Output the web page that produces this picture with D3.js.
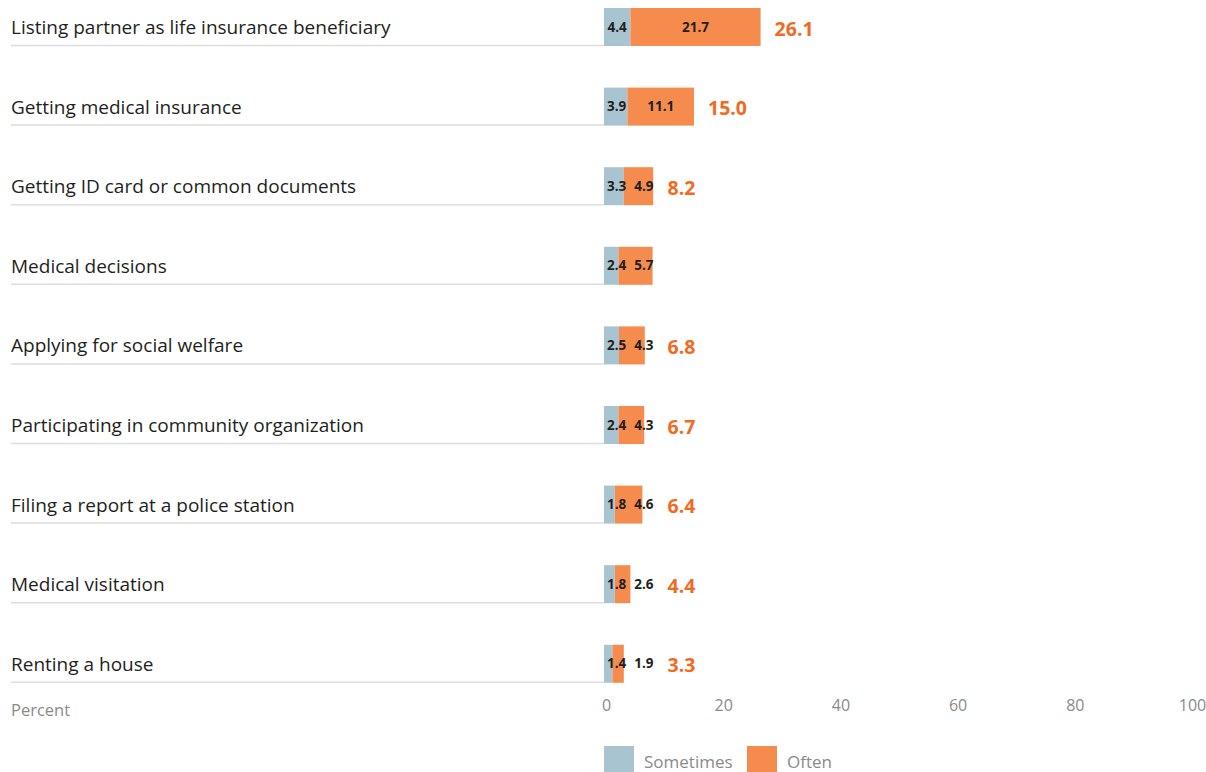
<!DOCTYPE html>
<html>
<head>
    <script src="https://d3js.org/d3.v7.min.js" charset="utf-8"></script>
    <style>
        body { margin: 0; background: #fff; }
        svg text { font-family: "Open Sans", "Noto Sans", sans-serif; }
    </style>
</head>
<body>
   <script>
        var categories = [
            "Listing partner as life insurance beneficiary",
            "Getting medical insurance",
            "Getting ID card or common documents",
            "Medical decisions",
            "Applying for social welfare",
            "Participating in community organization",
            "Filing a report at a police station",
            "Medical visitation",
            "Renting a house"
        ];
        var sometimes = [4.4, 3.9, 3.3, 2.4, 2.5, 2.4, 1.8, 1.8, 1.4];
        var often = [21.7, 11.1, 4.9, 5.7, 4.3, 4.3, 4.6, 2.6, 1.9];
        // the original chart shows no total for "Medical decisions"
        var totals = ["26.1", "15.0", "8.2", null, "6.8", "6.7", "6.4", "4.4", "3.3"];
        var ticks = [0, 20, 40, 60, 80, 100];
        var seriesNames = ["Sometimes", "Often"];
        var colors = ["#a9c4d1", "#f68b4e"];

        var width = 1206, height = 772;
        var svg = d3.select("body")
            .append("svg")
            .attr("width", width)
            .attr("height", height);

        var x = d3.scaleLinear().domain([0, 100]).range([604, 1204]);
        var xAxisScale = d3.scaleLinear().domain([0, 100]).range([606, 1192]);
        var y = d3.scaleBand().domain(categories).range([8, 8 + 79.6 * 9]);
        var barH = 38;

        var rows = svg.append("g")
            .selectAll("g.row")
            .data(categories.map(function (c, i) {
                return { cat: c, s: sometimes[i], o: often[i], t: totals[i] };
            }))
            .enter()
            .append("g")
            .attr("class", "row")
            .attr("transform", function (d) { return "translate(0," + y(d.cat) + ")"; });

        rows.append("line")
            .attr("x1", 11).attr("x2", x(0))
            .attr("y1", barH - 0.5).attr("y2", barH - 0.5)
            .style("stroke", "#dddddd")
            .style("stroke-width", 1.5);

        rows.append("text")
            .attr("x", 11)
            .attr("y", 26)
            .style("font-size", "19px")
            .style("fill", "#231f20")
            .text(function (d) { return d.cat; });

        rows.append("rect")
            .attr("x", x(0))
            .attr("width", function (d) { return x(d.s) - x(0); })
            .attr("height", barH)
            .style("fill", colors[0]);

        rows.append("rect")
            .attr("x", function (d) { return x(d.s); })
            .attr("width", function (d) { return x(d.s + d.o) - x(d.s); })
            .attr("height", barH)
            .style("fill", colors[1]);

        rows.each(function (d) {
            var g = d3.select(this);
            var t1 = g.append("text")
                .attr("y", 23.5)
                .style("font-size", "13.5px")
                .style("font-weight", "bold")
                .style("fill", "#231f20")
                .text(d.s.toFixed(1));
            var w1 = t1.node().getComputedTextLength();
            var segW1 = x(d.s) - x(0);
            var s1 = w1 + 6 < segW1 ? x(0) + (segW1 - w1) / 2 : x(0) + 3;
            t1.attr("x", s1);
            var end1 = s1 + w1;

            var t2 = g.append("text")
                .attr("y", 23.5)
                .style("font-size", "13.5px")
                .style("font-weight", "bold")
                .style("fill", "#231f20")
                .text(d.o.toFixed(1));
            var w2 = t2.node().getComputedTextLength();
            var segW2 = x(d.s + d.o) - x(d.s);
            var s2 = x(d.s) + (segW2 - w2) / 2;
            s2 = Math.max(s2, end1 + 8);
            t2.attr("x", s2);
            var end2 = Math.max(s2 + w2, x(d.s + d.o));

            if (d.t) {
                g.append("text")
                    .attr("x", end2 + 14)
                    .attr("y", 27.5)
                    .style("font-size", "19.5px")
                    .style("font-weight", "bold")
                    .style("fill", "#f26a22")
                    .text(d.t);
            }
        });

        // axis
        var axis = svg.append("g")
            .attr("transform", "translate(0,700)")
            .call(d3.axisBottom(xAxisScale).tickValues(ticks).tickSize(0).tickPadding(0));
        axis.select(".domain").remove();
        axis.selectAll("text")
            .attr("dy", "0.71em")
            .style("font-family", "\"Open Sans\", sans-serif")
            .style("font-size", "16px")
            .style("fill", "#8a8a8a");

        svg.append("text")
            .attr("x", 11)
            .attr("y", 716)
            .style("font-size", "16.5px")
            .style("fill", "#8a8a8a")
            .text("Percent");

        // legend
        var legend = svg.append("g")
            .selectAll("g.legend")
            .data(seriesNames)
            .enter()
            .append("g")
            .attr("class", "legend")
            .attr("transform", function (d, i) { return "translate(" + [604, 747][i] + ",746)"; });
        legend.append("rect")
            .attr("width", 30)
            .attr("height", 28)
            .style("fill", function (d, i) { return colors[i]; });
        legend.append("text")
            .attr("x", 40)
            .attr("y", 22)
            .style("font-size", "17px")
            .style("fill", "#8a8a8a")
            .text(function (d) { return d; });
    </script>
</body>
</html>
